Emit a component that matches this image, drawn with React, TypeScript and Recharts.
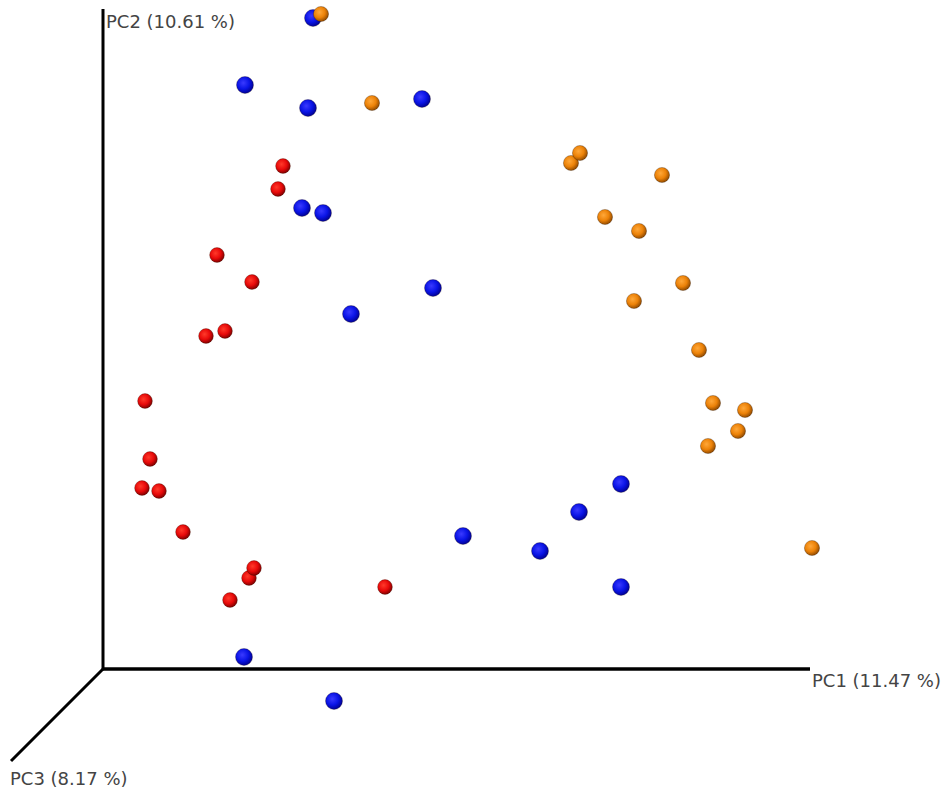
import React from 'react';
import { ScatterChart, Scatter, XAxis, YAxis, ReferenceLine, ReferenceDot } from 'recharts';

// projected PCoA coordinates (screen plane, arbitrary units)
const groupBlue = [
  { x: 2.10, y: 6.51 }, { x: 1.42, y: 5.84 }, { x: 2.05, y: 5.61 }, { x: 3.19, y: 5.70 },
  { x: 1.99, y: 4.61 }, { x: 2.20, y: 4.56 }, { x: 3.30, y: 3.81 }, { x: 2.48, y: 3.55 },
  { x: 5.18, y: 1.85 }, { x: 4.76, y: 1.57 }, { x: 3.60, y: 1.33 }, { x: 4.37, y: 1.18 },
  { x: 5.18, y: 0.82 }, { x: 1.41, y: 0.12 }, { x: 2.31, y: -0.32 },
];

const groupRed = [
  { x: 1.80, y: 5.03 }, { x: 1.75, y: 4.80 }, { x: 1.14, y: 4.14 }, { x: 1.49, y: 3.87 },
  { x: 1.22, y: 3.38 }, { x: 1.03, y: 3.33 }, { x: 0.42, y: 2.68 }, { x: 0.47, y: 2.10 },
  { x: 0.39, y: 1.81 }, { x: 0.56, y: 1.78 }, { x: 0.80, y: 1.37 }, { x: 1.46, y: 0.91 },
  { x: 1.51, y: 1.01 }, { x: 1.27, y: 0.69 }, { x: 2.82, y: 0.82 },
];

const groupOrange = [
  { x: 2.18, y: 6.55 }, { x: 2.69, y: 5.66 }, { x: 4.68, y: 5.06 }, { x: 4.77, y: 5.16 },
  { x: 5.59, y: 4.94 }, { x: 5.02, y: 4.52 }, { x: 5.36, y: 4.38 }, { x: 5.80, y: 3.86 },
  { x: 5.31, y: 3.68 }, { x: 5.96, y: 3.19 }, { x: 6.10, y: 2.66 }, { x: 6.42, y: 2.59 },
  { x: 6.35, y: 2.38 }, { x: 6.05, y: 2.23 }, { x: 7.09, y: 1.21 },
];

const axisLabels = ['PC1 (11.47 %)', 'PC2 (10.61 %)', 'PC3 (8.17 %)'];

const sphere = (grad: string, r: number) => (props: any) => {
  const { cx, cy } = props;
  if (cx == null || cy == null) return <g />;
  return <circle cx={cx} cy={cy} r={r} fill={`url(#${grad})`} stroke="rgba(40,20,0,0.35)" strokeWidth={0.8} />;
};

const axisText = (text: string) => (props: any) => {
  const { viewBox } = props;
  return (
    <text x={viewBox.x + 1} y={viewBox.y + 1} fontFamily="DejaVu Sans" fontSize={18} fill="#444">
      {text}
    </text>
  );
};

export default function App() {
  return (
    <div style={{ position: 'absolute', left: 0, top: 0, width: 950, height: 801, background: '#fff' }}>
      <svg width={0} height={0} style={{ position: 'absolute' }}>
        <defs>
          <radialGradient id="gBlue" cx="40%" cy="38%" r="65%">
            <stop offset="0%" stopColor="#3a3aff" />
            <stop offset="55%" stopColor="#0a14e6" />
            <stop offset="100%" stopColor="#00008c" />
          </radialGradient>
          <radialGradient id="gRed" cx="40%" cy="38%" r="65%">
            <stop offset="0%" stopColor="#ff3a2a" />
            <stop offset="55%" stopColor="#e80a0a" />
            <stop offset="100%" stopColor="#7a0000" />
          </radialGradient>
          <radialGradient id="gOrange" cx="40%" cy="38%" r="65%">
            <stop offset="0%" stopColor="#ffa83a" />
            <stop offset="55%" stopColor="#ec8208" />
            <stop offset="100%" stopColor="#8a4600" />
          </radialGradient>
        </defs>
      </svg>
      <ScatterChart width={950} height={801} margin={{ top: 0, right: 0, bottom: 0, left: 0 }}>
        <XAxis type="number" dataKey="x" domain={[-1.03, 8.47]} hide />
        <YAxis type="number" dataKey="y" domain={[-1.32, 6.69]} hide />
        <ReferenceLine segment={[{ x: 0, y: 0 }, { x: 7.07, y: 0 }]} stroke="#000" strokeWidth={3.5} ifOverflow="visible" />
        <ReferenceLine segment={[{ x: 0, y: 0 }, { x: 0, y: 6.6 }]} stroke="#000" strokeWidth={3} ifOverflow="visible" />
        <ReferenceLine segment={[{ x: 0, y: 0 }, { x: -0.92, y: -0.92 }]} stroke="#000" strokeWidth={3} ifOverflow="visible" />
        <ReferenceDot x={7.09} y={-0.18} r={1} fill="none" stroke="none" ifOverflow="visible" label={{ content: axisText(axisLabels[0]) }} />
        <ReferenceDot x={0.03} y={6.41} r={1} fill="none" stroke="none" ifOverflow="visible" label={{ content: axisText(axisLabels[1]) }} />
        <ReferenceDot x={-0.93} y={-1.16} r={1} fill="none" stroke="none" ifOverflow="visible" label={{ content: axisText(axisLabels[2]) }} />
        <Scatter data={groupBlue} shape={sphere('gBlue', 8.5)} isAnimationActive={false} />
        <Scatter data={groupRed} shape={sphere('gRed', 7.4)} isAnimationActive={false} />
        <Scatter data={groupOrange} shape={sphere('gOrange', 7.6)} isAnimationActive={false} />
      </ScatterChart>
    </div>
  );
}
